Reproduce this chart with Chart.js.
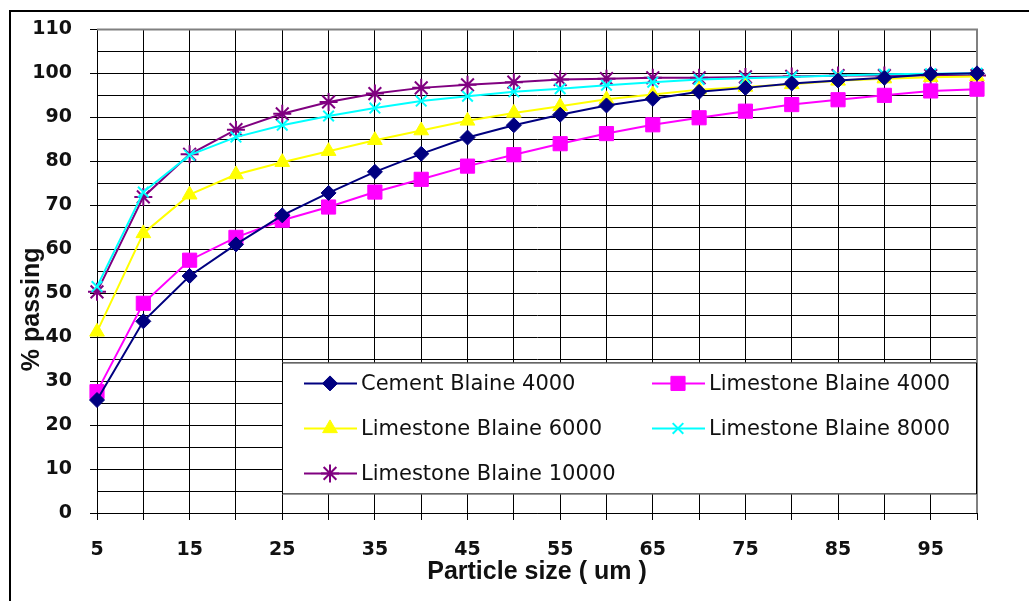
<!DOCTYPE html>
<html>
<head>
<meta charset="utf-8">
<script src="https://cdn.jsdelivr.net/npm/chart.js@4.4.1/dist/chart.umd.min.js"></script>
<style>
  html, body { margin: 0; padding: 0; background: #fff; }
  #wrap { width: 1029px; height: 601px; position: relative; }
</style>
</head>
<body>
<div id="wrap"><canvas id="psd"></canvas></div>
<script>
// particle size distribution, % passing
const sizes = [5, 10, 15, 20, 25, 30, 35, 40, 45, 50, 55, 60, 65, 70, 75, 80, 85, 90, 95, 100];
const cement4000 = [25.7, 43.6, 53.9, 61.1, 67.7, 72.8, 77.6, 81.7, 85.4, 88.2, 90.6, 92.7, 94.2, 95.8, 96.7, 97.7, 98.4, 99.0, 99.8, 100];
const limestone4000 = [27.6, 47.7, 57.5, 62.7, 66.6, 69.6, 73.0, 75.9, 78.9, 81.5, 84.0, 86.3, 88.3, 89.9, 91.4, 92.9, 94.0, 95.0, 96.0, 96.4];
const limestone6000 = [41.2, 63.6, 72.4, 77.0, 79.8, 82.3, 84.8, 87.0, 89.2, 91.0, 92.5, 94.1, 95.2, 96.3, 96.9, 97.5, 98.3, 98.8, 99.1, 99.3];
const limestone8000 = [51.5, 73.0, 81.4, 85.5, 88.2, 90.3, 92.1, 93.7, 94.8, 95.8, 96.5, 97.3, 98.0, 98.6, 98.9, 99.2, 99.5, 99.8, 99.9, 100];
const limestone10000 = [50.3, 71.9, 81.6, 87.2, 90.8, 93.5, 95.4, 96.7, 97.4, 98.0, 98.6, 98.8, 99.0, 99.0, 99.2, 99.3, 99.5, 99.5, 99.5, 99.5];
const seriesNames = ['Cement Blaine 4000', 'Limestone Blaine 4000', 'Limestone Blaine 6000', 'Limestone Blaine 8000', 'Limestone Blaine 10000'];

const toPoints = vals => vals.map((v, i) => ({ x: sizes[i], y: v }));

function series(label, vals, color, style, radius, bw) {
    return {
        label: label,
        data: toPoints(vals),
        borderColor: color,
        backgroundColor: color,
        borderWidth: 2,
        pointStyle: style,
        pointRadius: radius,
        pointHoverRadius: radius,
        pointBorderWidth: bw,
        pointBorderColor: color,
        pointBackgroundColor: color,
        tension: 0,
        clip: false
    };
}

// outer frame + top/right plot border
const framePlugin = {
    id: 'frame',
    beforeDraw(chart) {
        const ctx = chart.ctx;
        ctx.save();
        ctx.fillStyle = '#fff';
        ctx.fillRect(0, 0, chart.width, chart.height);
        ctx.strokeStyle = '#000';
        ctx.lineWidth = 2;
        ctx.strokeRect(10, 11, 1200, 800);
        ctx.restore();
    },
    beforeDatasetsDraw(chart) {
        const a = chart.chartArea, ctx = chart.ctx;
        ctx.save();
        ctx.strokeStyle = '#808080';
        ctx.lineWidth = 2;
        ctx.beginPath();
        ctx.moveTo(a.left, a.top);
        ctx.lineTo(a.right, a.top);
        ctx.lineTo(a.right, a.bottom);
        ctx.stroke();
        ctx.restore();
    }
};

// legend box sitting inside the plot, two columns
const boxLegend = {
    id: 'boxLegend',
    afterDatasetsDraw(chart) {
        const a = chart.chartArea, ctx = chart.ctx;
        const left = a.left + 185, top = a.top + 333, right = a.right, bottom = top + 132;
        ctx.save();
        ctx.fillStyle = '#fff';
        ctx.fillRect(left, top, right - left, bottom - top);
        ctx.strokeStyle = '#000';
        ctx.lineWidth = 1;
        ctx.strokeRect(left + 0.5, top + 0.5, right - left - 1, bottom - top - 1);

        const cols = [0, 348];
        const rows = [21, 66, 111];
        chart.data.datasets.forEach((ds, i) => {
            const cx = left + cols[i % 2];
            const cy = top + rows[Math.floor(i / 2)];
            ctx.strokeStyle = ds.borderColor;
            ctx.lineWidth = 2;
            ctx.beginPath();
            ctx.moveTo(cx + 22, cy);
            ctx.lineTo(cx + 75, cy);
            ctx.stroke();
            ctx.fillStyle = ds.pointBackgroundColor;
            ctx.strokeStyle = ds.pointBorderColor;
            ctx.lineWidth = ds.pointBorderWidth;
            Chart.helpers.drawPoint(ctx, {
                pointStyle: ds.pointStyle, rotation: 0,
                radius: ds.pointRadius, borderWidth: ds.pointBorderWidth
            }, cx + 48, cy);
            ctx.fillStyle = '#111';
            ctx.font = '21px "DejaVu Sans"';
            ctx.textBaseline = 'middle';
            ctx.textAlign = 'left';
            ctx.fillText(ds.label, cx + 79, cy + 1);
        });
        ctx.restore();
    }
};

const tickFont = { family: 'DejaVu Sans', size: 19, weight: 'bold' };
const titleFont = { family: 'Liberation Sans', size: 25, weight: 'bold' };

new Chart(document.getElementById('psd'), {
    type: 'line',
    data: {
        datasets: [
            series(seriesNames[0], cement4000, '#000080', 'rectRot', 7.5, 1),
            series(seriesNames[1], limestone4000, '#FF00FF', 'rect', 10, 1),
            series(seriesNames[2], limestone6000, '#FFFF00', 'triangle', 8.5, 1),
            series(seriesNames[3], limestone8000, '#00FFFF', 'crossRot', 7.5, 2),
            series(seriesNames[4], limestone10000, '#800080', 'star', 9, 2)
        ]
    },
    options: {
        responsive: true,
        maintainAspectRatio: false,
        animation: false,
        layout: { padding: { top: 29, right: 52, left: 0, bottom: 0 } },
        plugins: {
            legend: { display: false },
            tooltip: { enabled: false }
        },
        scales: {
            x: {
                type: 'linear',
                min: 5,
                max: 100,
                afterFit: s => { s.height = 88; },
                ticks: {
                    stepSize: 5,
                    autoSkip: false,
                    maxRotation: 0,
                    padding: 19,
                    color: '#111',
                    font: tickFont,
                    callback: v => ((v - 5) % 10 === 0 ? v : '')
                },
                grid: { color: '#000', lineWidth: 1, tickLength: 7, tickColor: '#000' },
                border: { color: '#000', width: 1 },
                title: {
                    display: true,
                    text: 'Particle size ( um )',
                    color: '#111',
                    font: titleFont,
                    padding: { top: 0, bottom: 14 }
                }
            },
            y: {
                min: 0,
                max: 110,
                afterFit: s => { s.width = 97; },
                ticks: {
                    stepSize: 5,
                    autoSkip: false,
                    padding: 18,
                    color: '#111',
                    font: tickFont,
                    callback: v => (v % 10 === 0 ? v : '')
                },
                grid: {
                    color: '#000',
                    lineWidth: 1,
                    tickLength: 7,
                    tickColor: c => (c.tick && c.tick.value % 10 === 0 ? '#000' : 'rgba(0,0,0,0)')
                },
                border: { color: '#000', width: 1 },
                title: {
                    display: true,
                    text: '% passing           ',
                    color: '#111',
                    font: titleFont,
                    padding: { top: 17, bottom: 0 }
                }
            }
        }
    },
    plugins: [framePlugin, boxLegend]
});
</script>
</body>
</html>
